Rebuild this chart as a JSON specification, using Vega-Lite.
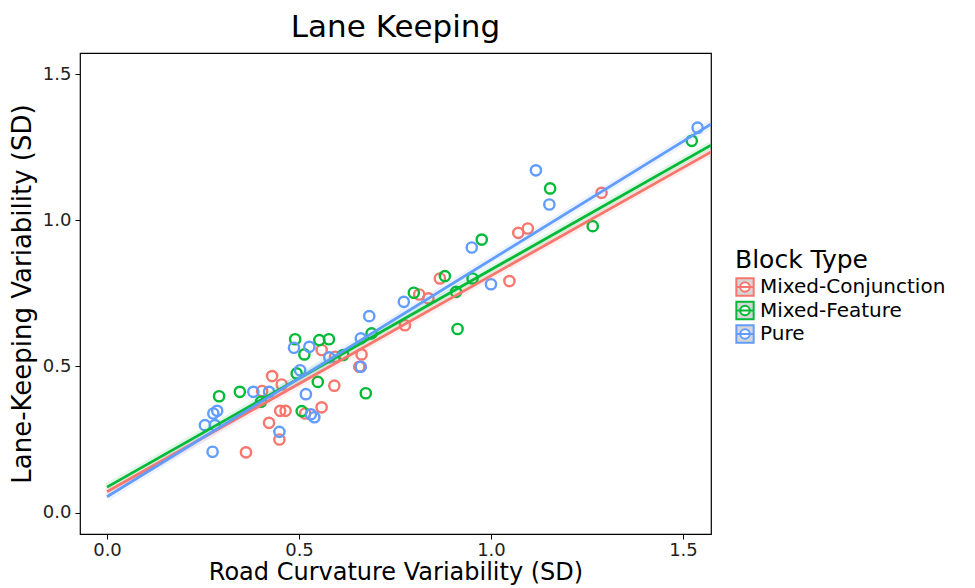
{
  "$schema": "https://vega.github.io/schema/vega-lite/v6.json",
  "width": 631,
  "height": 481,
  "autosize": {"type": "none"},
  "padding": {"left": 80, "top": 53, "right": 264, "bottom": 54},
  "background": "white",
  "title": {"text": "Lane Keeping", "fontSize": 31, "font": "DejaVu Sans", "fontWeight": "normal", "anchor": "middle", "offset": 9, "color": "black"},
  "config": {
    "view": {"stroke": "black", "strokeWidth": 1.2},
    "font": "DejaVu Sans",
    "axis": {"domain": false, "grid": false, "tickColor": "black", "tickSize": 5, "labelFontSize": 18, "labelColor": "#222", "titleFontSize": 24, "titleFontWeight": "normal", "titleColor": "black", "labelFont": "DejaVu Sans", "titleFont": "DejaVu Sans"}
  },
  "datasets": {
    "pts": [
      {"group": "Mixed-Conjunction", "x": 0.362, "y": 0.206},
      {"group": "Mixed-Conjunction", "x": 0.422, "y": 0.307},
      {"group": "Mixed-Conjunction", "x": 0.430, "y": 0.467},
      {"group": "Mixed-Conjunction", "x": 0.449, "y": 0.250},
      {"group": "Mixed-Conjunction", "x": 0.451, "y": 0.348},
      {"group": "Mixed-Conjunction", "x": 0.465, "y": 0.348},
      {"group": "Mixed-Conjunction", "x": 0.455, "y": 0.438},
      {"group": "Mixed-Conjunction", "x": 0.404, "y": 0.416},
      {"group": "Mixed-Conjunction", "x": 0.516, "y": 0.339},
      {"group": "Mixed-Conjunction", "x": 0.559, "y": 0.360},
      {"group": "Mixed-Conjunction", "x": 0.559, "y": 0.556},
      {"group": "Mixed-Conjunction", "x": 0.594, "y": 0.533},
      {"group": "Mixed-Conjunction", "x": 0.592, "y": 0.434},
      {"group": "Mixed-Conjunction", "x": 0.657, "y": 0.499},
      {"group": "Mixed-Conjunction", "x": 0.663, "y": 0.541},
      {"group": "Mixed-Conjunction", "x": 0.776, "y": 0.641},
      {"group": "Mixed-Conjunction", "x": 0.837, "y": 0.733},
      {"group": "Mixed-Conjunction", "x": 0.813, "y": 0.746},
      {"group": "Mixed-Conjunction", "x": 0.867, "y": 0.801},
      {"group": "Mixed-Conjunction", "x": 1.048, "y": 0.792},
      {"group": "Mixed-Conjunction", "x": 1.071, "y": 0.957},
      {"group": "Mixed-Conjunction", "x": 1.096, "y": 0.972},
      {"group": "Mixed-Conjunction", "x": 1.288, "y": 1.094},
      {"group": "Mixed-Feature", "x": 0.292, "y": 0.398},
      {"group": "Mixed-Feature", "x": 0.346, "y": 0.413},
      {"group": "Mixed-Feature", "x": 0.401, "y": 0.379},
      {"group": "Mixed-Feature", "x": 0.490, "y": 0.593},
      {"group": "Mixed-Feature", "x": 0.553, "y": 0.590},
      {"group": "Mixed-Feature", "x": 0.578, "y": 0.593},
      {"group": "Mixed-Feature", "x": 0.514, "y": 0.541},
      {"group": "Mixed-Feature", "x": 0.494, "y": 0.476},
      {"group": "Mixed-Feature", "x": 0.549, "y": 0.447},
      {"group": "Mixed-Feature", "x": 0.507, "y": 0.347},
      {"group": "Mixed-Feature", "x": 0.674, "y": 0.408},
      {"group": "Mixed-Feature", "x": 0.689, "y": 0.613},
      {"group": "Mixed-Feature", "x": 0.615, "y": 0.539},
      {"group": "Mixed-Feature", "x": 0.799, "y": 0.752},
      {"group": "Mixed-Feature", "x": 0.880, "y": 0.809},
      {"group": "Mixed-Feature", "x": 0.909, "y": 0.755},
      {"group": "Mixed-Feature", "x": 0.952, "y": 0.801},
      {"group": "Mixed-Feature", "x": 0.913, "y": 0.628},
      {"group": "Mixed-Feature", "x": 0.976, "y": 0.934},
      {"group": "Mixed-Feature", "x": 1.154, "y": 1.109},
      {"group": "Mixed-Feature", "x": 1.265, "y": 0.980},
      {"group": "Mixed-Feature", "x": 1.523, "y": 1.272},
      {"group": "Pure", "x": 0.275, "y": 0.208},
      {"group": "Pure", "x": 0.255, "y": 0.299},
      {"group": "Pure", "x": 0.281, "y": 0.299},
      {"group": "Pure", "x": 0.277, "y": 0.339},
      {"group": "Pure", "x": 0.287, "y": 0.348},
      {"group": "Pure", "x": 0.381, "y": 0.413},
      {"group": "Pure", "x": 0.422, "y": 0.413},
      {"group": "Pure", "x": 0.449, "y": 0.276},
      {"group": "Pure", "x": 0.487, "y": 0.564},
      {"group": "Pure", "x": 0.527, "y": 0.567},
      {"group": "Pure", "x": 0.503, "y": 0.487},
      {"group": "Pure", "x": 0.518, "y": 0.405},
      {"group": "Pure", "x": 0.531, "y": 0.336},
      {"group": "Pure", "x": 0.540, "y": 0.326},
      {"group": "Pure", "x": 0.579, "y": 0.531},
      {"group": "Pure", "x": 0.661, "y": 0.596},
      {"group": "Pure", "x": 0.661, "y": 0.499},
      {"group": "Pure", "x": 0.683, "y": 0.672},
      {"group": "Pure", "x": 0.773, "y": 0.721},
      {"group": "Pure", "x": 0.950, "y": 0.907},
      {"group": "Pure", "x": 1.000, "y": 0.781},
      {"group": "Pure", "x": 1.117, "y": 1.171},
      {"group": "Pure", "x": 1.152, "y": 1.054},
      {"group": "Pure", "x": 1.538, "y": 1.317}
    ],
    "fit": [
      {"group": "Mixed-Conjunction", "x": 0, "y": 0.071},
      {"group": "Mixed-Conjunction", "x": 1.573, "y": 1.234},
      {"group": "Mixed-Feature", "x": 0, "y": 0.087},
      {"group": "Mixed-Feature", "x": 1.573, "y": 1.257},
      {"group": "Pure", "x": 0, "y": 0.054},
      {"group": "Pure", "x": 1.573, "y": 1.329}
    ]
  },
  "encoding": {
    "x": {"field": "x", "type": "quantitative", "scale": {"domain": [-0.0703, 1.573], "nice": false, "zero": false},
      "axis": {"title": "Road Curvature Variability (SD)", "values": [0, 0.5, 1, 1.5], "format": ".1f", "labelPadding": 2, "titlePadding": 1}},
    "y": {"field": "y", "type": "quantitative", "scale": {"domain": [-0.0735, 1.5725], "nice": false, "zero": false},
      "axis": {"title": "Lane-Keeping Variability (SD)", "titleFontSize": 26, "values": [0, 0.5, 1, 1.5], "format": ".1f", "labelPadding": 4, "titlePadding": 7}},
    "color": {"field": "group", "type": "nominal",
      "scale": {"domain": ["Mixed-Conjunction", "Mixed-Feature", "Pure"], "range": ["#F8766D", "#00BA38", "#619CFF"]},
      "legend": {"title": "Block Type", "orient": "none", "legendX": 655, "legendY": 195,
        "titleFontSize": 25, "titleFontWeight": "normal", "titleColor": "black", "titleFont": "DejaVu Sans",
        "labelFontSize": 20, "labelColor": "black", "labelFont": "DejaVu Sans", "labelOffset": 5, "labelLimit": 0,
        "symbolType": "M-1,-1H1V1H-1Z M-0.55,0A0.55,0.55 0 1,0 0.55,0A0.55,0.55 0 1,0 -0.55,0 M-1,0H1",
        "symbolSize": 300, "symbolStrokeWidth": 2, "rowPadding": -2.5, "titlePadding": 4,
        "encode": {"symbols": {"update": {"fill": {"value": "#d6d6d6"}, "strokeWidth": {"value": 2}}}}}}
  },
  "layer": [
    {"data": {"name": "pts"}, "mark": {"type": "point", "shape": "circle", "filled": false, "size": 105, "strokeWidth": 2.4, "opacity": 1}},
    {"data": {"name": "fit"}, "mark": {"type": "line", "strokeWidth": 8, "opacity": 0.12, "clip": true}},
    {"data": {"name": "fit"}, "mark": {"type": "line", "strokeWidth": 2.8, "clip": true}}
  ]
}
